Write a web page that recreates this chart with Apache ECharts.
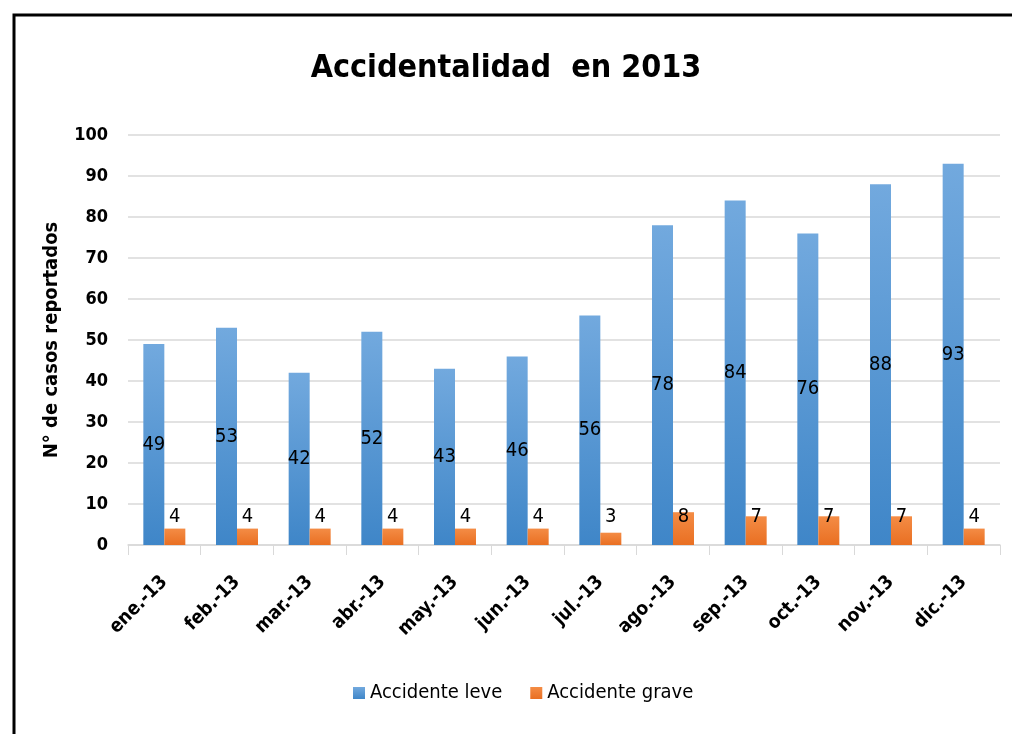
<!DOCTYPE html>
<html>
<head>
<meta charset="utf-8">
<script src="https://cdn.jsdelivr.net/npm/echarts@6/dist/echarts.min.js"></script>
<style>
  html, body { margin: 0; padding: 0; background: #fff; }
  #chart { width: 1012px; height: 734px; }
</style>
</head>
<body>
<div id="chart"></div>
<script>
const months = ['ene.-13', 'feb.-13', 'mar.-13', 'abr.-13', 'may.-13', 'jun.-13',
  'jul.-13', 'ago.-13', 'sep.-13', 'oct.-13', 'nov.-13', 'dic.-13']
const leve = [49, 53, 42, 52, 43, 46, 56, 78, 84, 76, 88, 93]
const grave = [4, 4, 4, 4, 4, 4, 3, 8, 7, 7, 7, 4]
const yTicks = [0, 100, 10] // min, max, interval

const font = '"Liberation Sans Narrow", "DejaVu Sans Condensed", "Liberation Sans", sans-serif'

const blueFill = new echarts.graphic.LinearGradient(0, 0, 0, 1, [
  { offset: 0, color: '#72a9de' },
  { offset: 1, color: '#3f86c8' }
])
const orangeFill = new echarts.graphic.LinearGradient(0, 0, 0, 1, [
  { offset: 0, color: '#f48c45' },
  { offset: 1, color: '#e96f22' }
])

const myChart = echarts.init(document.getElementById('chart'))
const option = {
  backgroundColor: '#fff',
  animation: false,
  title: {
    text: 'Accidentalidad  en 2013',
    left: 'center',
    top: 48,
    textStyle: { fontFamily: font, fontSize: 32, fontWeight: 'bold', color: '#000' }
  },
  graphic: [{
    type: 'rect',
    shape: { x: 14, y: 15, width: 1100, height: 800 },
    style: { fill: 'none', stroke: '#000', lineWidth: 3 },
    silent: true
  }],
  legend: {
    bottom: 26,
    left: 348,
    itemWidth: 12,
    itemHeight: 12,
    itemGap: 28,
    icon: 'rect',
    textStyle: { fontFamily: font, fontSize: 20, color: '#000' }
  },
  grid: { left: 128, right: 12, top: 135, bottom: 189 },
  xAxis: {
    type: 'category',
    data: months,
    axisLine: { lineStyle: { color: '#d9d9d9', width: 1.5 } },
    axisTick: { show: true, length: 10, lineStyle: { color: '#d9d9d9' } },
    axisLabel: {
      rotate: 45,
      margin: 34,
      fontFamily: font,
      fontSize: 19,
      fontWeight: 'bold',
      color: '#000'
    }
  },
  yAxis: {
    type: 'value',
    min: yTicks[0],
    max: yTicks[1],
    interval: yTicks[2],
    name: 'N° de casos reportados',
    nameLocation: 'middle',
    nameGap: 66,
    nameTextStyle: { fontFamily: font, fontSize: 20, fontWeight: 'bold', color: '#000' },
    axisLine: { show: false },
    axisTick: { show: false },
    axisLabel: { margin: 20, fontFamily: font, fontSize: 18, fontWeight: 'bold', color: '#000' },
    splitLine: { lineStyle: { color: '#d9d9d9', width: 1.5 } }
  },
  series: [
    {
      name: 'Accidente leve',
      type: 'bar',
      data: leve,
      barWidth: 21,
      barGap: '0%',
      itemStyle: { color: blueFill },
      label: {
        show: true,
        position: 'inside',
        fontFamily: font,
        fontSize: 20,
        color: '#000'
      }
    },
    {
      name: 'Accidente grave',
      type: 'bar',
      data: grave,
      barWidth: 21,
      itemStyle: { color: orangeFill },
      label: {
        show: true,
        position: 'insideBottom',
        distance: 18,
        fontFamily: font,
        fontSize: 20,
        color: '#000'
      }
    }
  ]
}
myChart.setOption(option)
</script>
</body>
</html>
